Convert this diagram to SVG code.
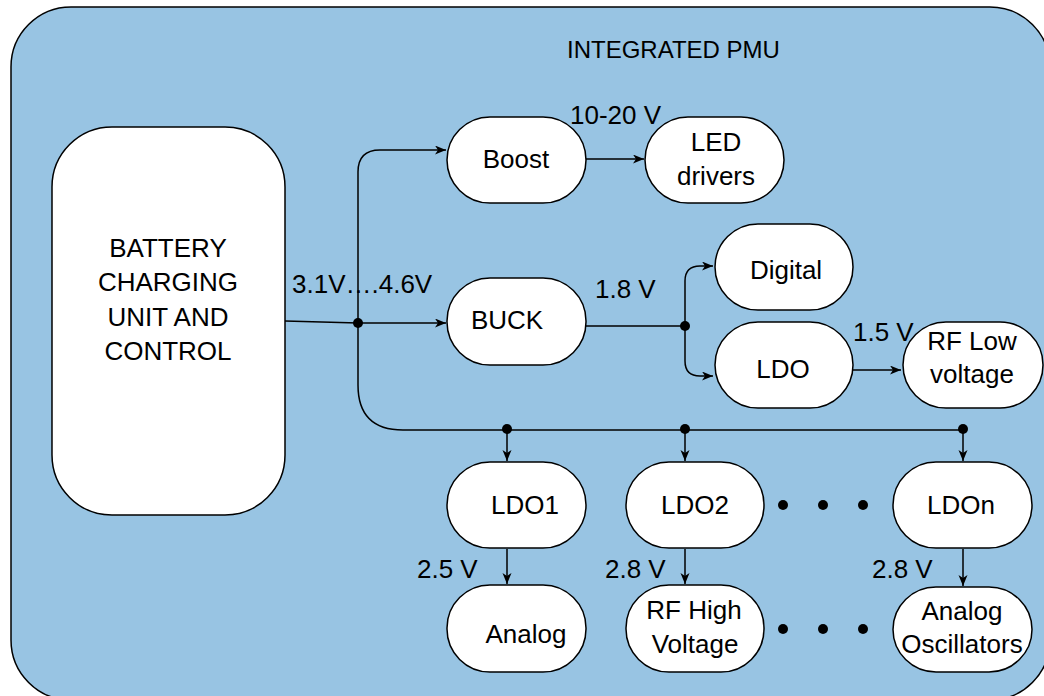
<svg xmlns="http://www.w3.org/2000/svg" width="1044" height="696" viewBox="0 0 1044 696">
<style>
.node{fill:#ffffff;stroke:#000000;stroke-width:1.5}
.t{font-family:"Liberation Sans",Arial,sans-serif;font-size:26px;fill:#000000;text-anchor:middle}
.l{font-family:"Liberation Sans",Arial,sans-serif;font-size:26px;fill:#000000}
.c{fill:none;stroke:#000000;stroke-width:1.5}
.dot{fill:#000000}
</style>
<defs>
<marker id="arr" markerWidth="13" markerHeight="11" refX="11" refY="4.5" orient="auto" markerUnits="userSpaceOnUse">
<path d="M0,0 L11,4.5 L0,9 L3,4.5 z" fill="#000000"/>
</marker>
</defs>
<g id="background">
<rect x="11" y="7" width="1039" height="693" rx="60" ry="60" fill="#98c4e3" stroke="#000000" stroke-width="1.5"/>
<text x="567" y="58" class="l" style="font-size:24px">INTEGRATED PMU</text>
</g>
<g id="connectors">
<path class="c" d="M285,321 L358,323 L446,323" marker-end="url(#arr)"/>
<path class="c" d="M358,323 L358,172 Q358,150 380,150 L446,150" marker-end="url(#arr)"/>
<path class="c" d="M358,323 L358,385 Q358,430 403,430 L963,430"/>
<path class="c" d="M586,159 L644,159" marker-end="url(#arr)"/>
<path class="c" d="M586,326 L685,326"/>
<path class="c" d="M685,326 L685,281 Q685,266 700,266 L713,266" marker-end="url(#arr)"/>
<path class="c" d="M685,326 L685,361 Q685,376 700,376 L713,376" marker-end="url(#arr)"/>
<path class="c" d="M853,370 L901,370" marker-end="url(#arr)"/>
<path class="c" d="M507,430 L507,461" marker-end="url(#arr)"/>
<path class="c" d="M685,430 L685,461" marker-end="url(#arr)"/>
<path class="c" d="M963,430 L963,461" marker-end="url(#arr)"/>
<path class="c" d="M507,549 L507,584" marker-end="url(#arr)"/>
<path class="c" d="M685,549 L685,584" marker-end="url(#arr)"/>
<path class="c" d="M963,549 L963,586" marker-end="url(#arr)"/>
<circle class="dot" cx="358" cy="323" r="5"/>
<circle class="dot" cx="685" cy="326" r="5"/>
<circle class="dot" cx="507" cy="429" r="5"/>
<circle class="dot" cx="685" cy="429" r="5"/>
<circle class="dot" cx="963" cy="429" r="5"/>
<text x="292" y="293" class="l">3.1V….4.6V</text>
<text x="570" y="124" class="l">10-20 V</text>
<text x="595" y="298" class="l">1.8 V</text>
<text x="853" y="341" class="l">1.5 V</text>
<text x="417" y="578" class="l">2.5 V</text>
<text x="605" y="578" class="l">2.8 V</text>
<text x="872" y="578" class="l">2.8 V</text>
</g>
<g id="battery">
<rect class="node" x="52" y="127" width="233" height="388" rx="60" ry="60"/>
<text class="t" x="168" y="257">BATTERY</text>
<text class="t" x="168" y="291">CHARGING</text>
<text class="t" x="168" y="326">UNIT AND</text>
<text class="t" x="168" y="360">CONTROL</text>
</g>
<g id="boost">
<rect class="node" x="447" y="117" width="139" height="86" rx="43" ry="43"/>
<text class="t" x="516" y="168">Boost</text>
</g>
<g id="led">
<rect class="node" x="645" y="117" width="139" height="86" rx="43" ry="43"/>
<text class="t" x="716" y="151">LED</text>
<text class="t" x="716" y="185">drivers</text>
</g>
<g id="buck">
<rect class="node" x="447" y="278" width="139" height="87" rx="43" ry="43"/>
<text class="t" x="507" y="329">BUCK</text>
</g>
<g id="digital">
<rect class="node" x="715" y="224" width="138" height="86" rx="43" ry="43"/>
<text class="t" x="786" y="279">Digital</text>
</g>
<g id="ldo">
<rect class="node" x="715" y="322" width="138" height="86" rx="43" ry="43"/>
<text class="t" x="783" y="378">LDO</text>
</g>
<g id="rflow">
<rect class="node" x="903" y="322" width="140" height="86" rx="43" ry="43"/>
<text class="t" x="972" y="350">RF Low</text>
<text class="t" x="972" y="383">voltage</text>
</g>
<g id="ldo1">
<rect class="node" x="447" y="462" width="139" height="86" rx="43" ry="43"/>
<text class="t" x="525" y="514">LDO1</text>
</g>
<g id="ldo2">
<rect class="node" x="626" y="462" width="138" height="86" rx="43" ry="43"/>
<text class="t" x="695" y="514">LDO2</text>
</g>
<g id="ldon">
<rect class="node" x="893" y="462" width="139" height="86" rx="43" ry="43"/>
<text class="t" x="961" y="514">LDOn</text>
</g>
<g id="analog">
<rect class="node" x="447" y="585" width="139" height="87" rx="43" ry="43"/>
<text class="t" x="526" y="643">Analog</text>
</g>
<g id="rfhigh">
<rect class="node" x="626" y="585" width="138" height="87" rx="43" ry="43"/>
<text class="t" x="694" y="619">RF High</text>
<text class="t" x="695" y="653">Voltage</text>
</g>
<g id="analogosc">
<rect class="node" x="893" y="587" width="139" height="85" rx="43" ry="43"/>
<text class="t" x="962" y="620">Analog</text>
<text class="t" x="962" y="653">Oscillators</text>
</g>
<g id="ellipsis">
<circle class="dot" cx="783" cy="505" r="5"/>
<circle class="dot" cx="823" cy="505" r="5"/>
<circle class="dot" cx="863" cy="505" r="5"/>
<circle class="dot" cx="783" cy="629" r="5"/>
<circle class="dot" cx="823" cy="629" r="5"/>
<circle class="dot" cx="863" cy="629" r="5"/>
</g>
</svg>
